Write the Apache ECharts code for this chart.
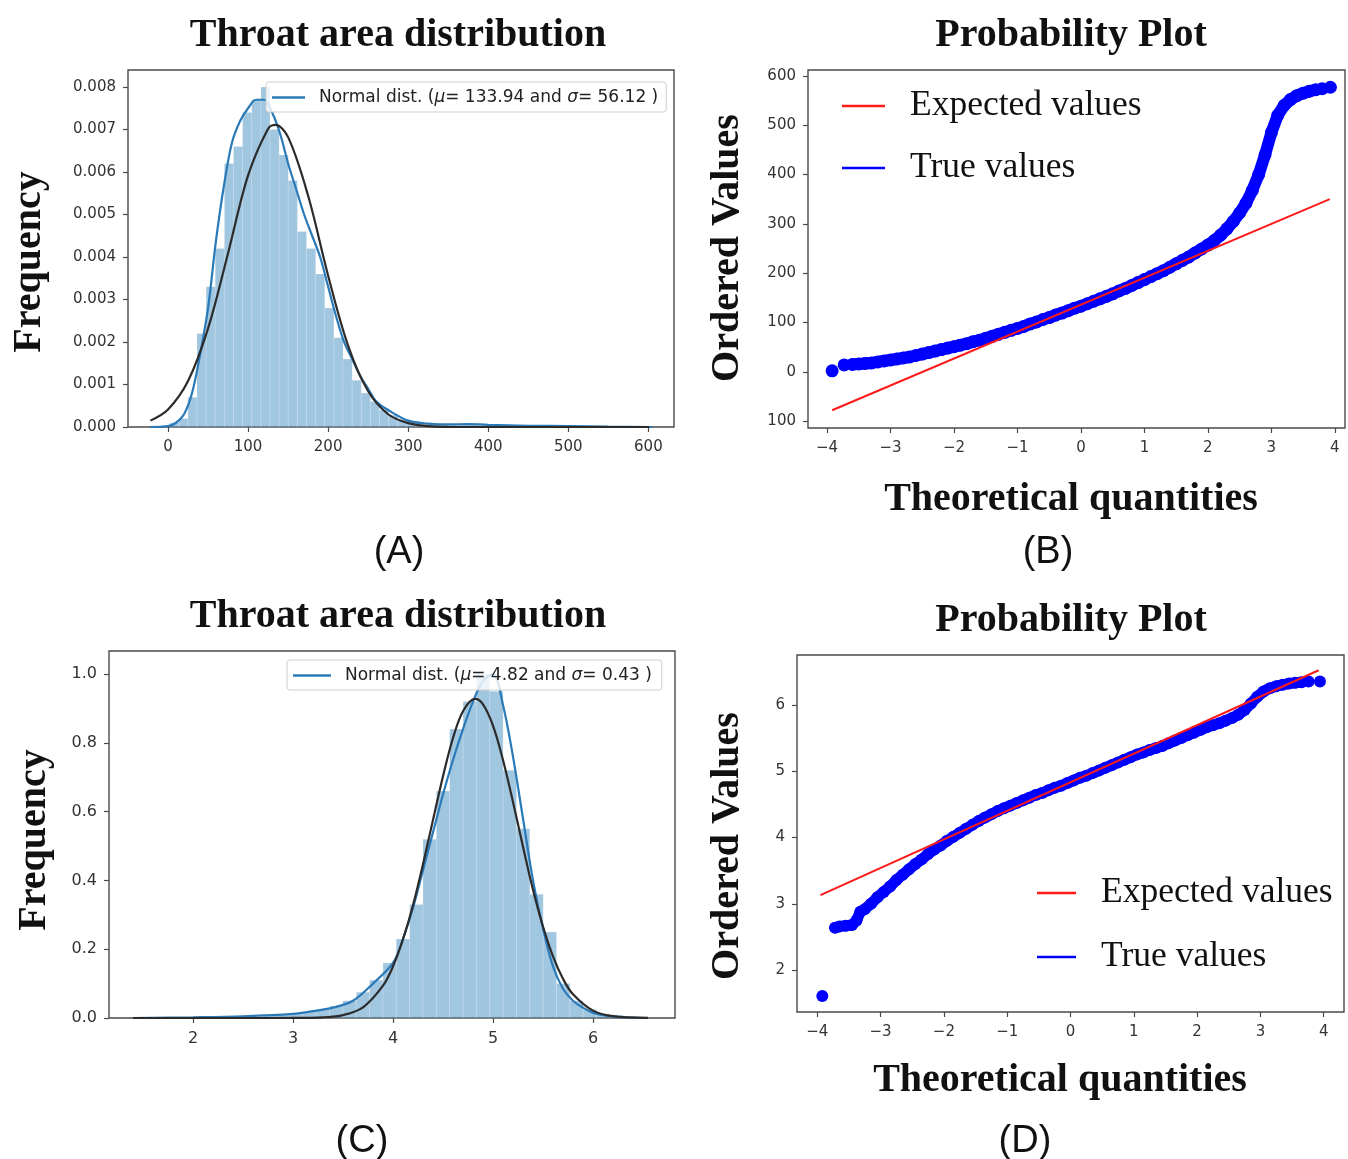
<!DOCTYPE html>
<html>
<head>
<meta charset="utf-8">
<script src="https://cdn.jsdelivr.net/npm/echarts@6/dist/echarts.min.js"></script>
<style>html,body{margin:0;padding:0;background:#fff;}#c{width:1348px;height:1159px;}</style>
</head>
<body>
<div id="c"></div>
<script>
// ---------- Panel A: histogram + KDE + normal fit ----------
const histA_edges = [2, 13.4, 24.8, 36.2, 47.6, 59, 70.4, 81.8, 93.2, 104.6, 116, 127.4, 138.8, 150.2, 161.6, 173, 184.4, 195.8, 207.2, 218.6, 230, 241.4, 252.8, 264.2, 275.6, 287, 298.4, 309.8, 321.2, 332.6, 344, 355.4, 366.8, 378.2, 389.6, 401, 412.4, 423.8, 435.2, 446.6, 458, 469.4, 480.8, 492.2, 503.6, 515, 526.4, 537.8, 549.2, 560.6, 572];
const histA_heights = [0.0001, 0.0002, 0.0007, 0.0022, 0.0033, 0.0042, 0.0062, 0.0066, 0.0074, 0.0077, 0.0080, 0.0070, 0.0064, 0.0058, 0.0046, 0.0042, 0.0036, 0.0028, 0.0021, 0.0016, 0.0011, 0.0008, 0.0006, 0.0004, 0.00028, 0.00018, 0.00012, 0.00009, 0.00007, 0.00006, 0.00005, 0.00006, 0.00007, 0.00005, 0.00004, 0.00003, 0.00003, 0.00002, 0.00002, 0.00002, 0.00001, 0.00001, 0.00001, 0.00001, 0, 0.00001, 0, 0, 0.00001, 0.00001];
const kdeA_x = [-22, 0, 10, 20, 30, 40, 50, 60, 70, 80, 90, 100, 110, 120, 130, 140, 150, 160, 170, 180, 190, 200, 210, 220, 230, 240, 250, 260, 275, 300, 325, 350, 375, 400, 450, 500, 550, 605];
const kdeA_y = [0, 0.00002, 0.0001, 0.0003, 0.0008, 0.0017, 0.0028, 0.0044, 0.0057, 0.0067, 0.0072, 0.0075, 0.0077, 0.0077, 0.0074, 0.0069, 0.0062, 0.0056, 0.0050, 0.0045, 0.0040, 0.0033, 0.0026, 0.0020, 0.0016, 0.0012, 0.0009, 0.0006, 0.0004, 0.00015, 0.00008, 0.00006, 0.00007, 0.00005, 0.00003, 0.00002, 0.00001, 0];
const normA_x = [-22, 0, 25, 50, 75, 100, 125, 134, 150, 175, 200, 225, 250, 275, 300, 325, 350, 400, 500, 601];
const normA_y = [0.00015, 0.00041, 0.00108, 0.00232, 0.00409, 0.00592, 0.00702, 0.00711, 0.00682, 0.00544, 0.00356, 0.00191, 0.00084, 0.0003, 0.00009, 0.00002, 0.000004, 0, 0, 0];
const ticksA_x = [0, 100, 200, 300, 400, 500, 600];
const ticksA_y = [0, 0.001, 0.002, 0.003, 0.004, 0.005, 0.006, 0.007, 0.008];

// ---------- Panel B: probability plot ----------
const qqB_single_x = [-3.92, -3.73];
const qqB_single_y = [2, 14];
const qqB_x = [-3.6, -3.5, -3.4, -3.3, -3.2, -3.1, -3.0, -2.9, -2.8, -2.7, -2.6, -2.5, -2.4, -2.3, -2.2, -2.1, -2.0, -1.9, -1.8, -1.7, -1.6, -1.5, -1.4, -1.3, -1.2, -1.1, -1.0, -0.9, -0.8, -0.7, -0.6, -0.5, -0.4, -0.3, -0.2, -0.1, 0, 0.1, 0.2, 0.3, 0.4, 0.5, 0.6, 0.7, 0.8, 0.9, 1.0, 1.1, 1.2, 1.3, 1.4, 1.5, 1.6, 1.7, 1.8, 1.9, 2.0, 2.1, 2.2, 2.3, 2.4, 2.5, 2.6, 2.7, 2.8, 2.9, 3.0, 3.1, 3.2, 3.3, 3.4, 3.5, 3.6, 3.7];
const qqB_y = [15, 16, 17, 18, 20, 22, 24, 26, 28, 30, 33, 36, 39, 42, 45, 48, 51, 54, 57, 61, 64, 68, 72, 76, 80, 84, 88, 92, 97, 101, 106, 110, 115, 119, 124, 129, 133, 138, 143, 148, 153, 158, 164, 169, 175, 181, 187, 193, 199, 205, 212, 219, 226, 233, 241, 249, 257, 266, 277, 290, 305, 322, 342, 368, 400, 440, 485, 520, 540, 552, 560, 565, 569, 572];
const qqB_tail_x = [3.8, 3.93];
const qqB_tail_y = [574, 577];
const fitB_x = [-3.92, 3.92];
const fitB_y = [-78, 350];
const ticksB_x = [-4, -3, -2, -1, 0, 1, 2, 3, 4];
const ticksB_y = [-100, 0, 100, 200, 300, 400, 500, 600];

// ---------- Panel C: histogram + KDE + normal fit ----------
const histC_edges = [1.630, 1.764, 1.897, 2.031, 2.164, 2.298, 2.431, 2.565, 2.698, 2.832, 2.965, 3.099, 3.232, 3.366, 3.499, 3.633, 3.766, 3.900, 4.033, 4.167, 4.300, 4.434, 4.567, 4.701, 4.834, 4.968, 5.101, 5.235, 5.368, 5.502, 5.635, 5.769, 5.902, 6.036, 6.169, 6.303, 6.436];
const histC_heights = [0.002, 0, 0, 0, 0, 0, 0, 0.004, 0.006, 0.008, 0.012, 0.018, 0.025, 0.035, 0.05, 0.075, 0.11, 0.16, 0.23, 0.33, 0.52, 0.66, 0.84, 0.92, 1.0, 0.95, 0.72, 0.55, 0.36, 0.25, 0.10, 0.05, 0.025, 0.012, 0.008, 0.004];
const kdeC_x = [1.4, 2.0, 2.5, 3.0, 3.2, 3.4, 3.6, 3.8, 4.0, 4.1, 4.2, 4.3, 4.4, 4.5, 4.6, 4.7, 4.8, 4.9, 5.0, 5.1, 5.2, 5.3, 5.4, 5.5, 5.6, 5.7, 5.8, 5.9, 6.0, 6.2, 6.5];
const kdeC_y = [0, 0.002, 0.005, 0.012, 0.02, 0.03, 0.05, 0.10, 0.16, 0.23, 0.32, 0.43, 0.54, 0.65, 0.75, 0.84, 0.92, 0.98, 1.0, 0.91, 0.76, 0.58, 0.40, 0.26, 0.15, 0.085, 0.05, 0.03, 0.015, 0.004, 0];
const normC_x = [1.4, 2.0, 2.5, 3.0, 3.3, 3.5, 3.7, 3.9, 4.0, 4.1, 4.2, 4.3, 4.4, 4.5, 4.6, 4.7, 4.82, 4.9, 5.0, 5.1, 5.2, 5.3, 5.4, 5.5, 5.6, 5.7, 5.8, 6.0, 6.2, 6.55];
const normC_y = [0, 0, 0, 0.0001, 0.0018, 0.0084, 0.031, 0.094, 0.150, 0.229, 0.328, 0.447, 0.576, 0.703, 0.814, 0.892, 0.928, 0.912, 0.850, 0.750, 0.628, 0.498, 0.373, 0.266, 0.179, 0.114, 0.069, 0.0215, 0.0054, 0.0003];
const ticksC_x = [2, 3, 4, 5, 6];
const ticksC_y = [0, 0.2, 0.4, 0.6, 0.8, 1.0];

// ---------- Panel D: probability plot ----------
const qqD_single_x = [-3.92];
const qqD_single_y = [1.61];
const qqD_x = [-3.72, -3.65, -3.55, -3.45, -3.38, -3.32, -3.25, -3.15, -3.05, -2.95, -2.85, -2.75, -2.65, -2.55, -2.45, -2.35, -2.25, -2.15, -2.05, -1.95, -1.85, -1.75, -1.65, -1.55, -1.45, -1.35, -1.25, -1.15, -1.05, -0.95, -0.85, -0.75, -0.65, -0.55, -0.45, -0.35, -0.25, -0.15, -0.05, 0.05, 0.15, 0.25, 0.35, 0.45, 0.55, 0.65, 0.75, 0.85, 0.95, 1.05, 1.15, 1.25, 1.35, 1.45, 1.55, 1.65, 1.75, 1.85, 1.95, 2.05, 2.15, 2.25, 2.35, 2.45, 2.55, 2.65, 2.75, 2.85, 2.95, 3.05, 3.15, 3.25, 3.35, 3.45, 3.55, 3.65];
const qqD_y = [2.64, 2.66, 2.67, 2.68, 2.75, 2.88, 2.92, 3.0, 3.1, 3.18, 3.26, 3.36, 3.44, 3.52, 3.6, 3.67, 3.75, 3.82, 3.88, 3.95, 4.01, 4.07, 4.13, 4.19, 4.25, 4.30, 4.35, 4.40, 4.44, 4.48, 4.52, 4.56, 4.60, 4.64, 4.67, 4.71, 4.75, 4.78, 4.82, 4.86, 4.90, 4.93, 4.97, 5.01, 5.05, 5.09, 5.13, 5.17, 5.21, 5.25, 5.28, 5.32, 5.35, 5.38, 5.42, 5.46, 5.50, 5.54, 5.58, 5.62, 5.66, 5.69, 5.72, 5.76, 5.80, 5.85, 5.92, 6.02, 6.12, 6.2, 6.25, 6.28, 6.30, 6.32, 6.33, 6.34];
const qqD_tail_x = [3.76, 3.94];
const qqD_tail_y = [6.35, 6.35];
const fitD_x = [-3.95, 3.92];
const fitD_y = [3.13, 6.52];
const ticksD_x = [-4, -3, -2, -1, 0, 1, 2, 3, 4];
const ticksD_y = [2, 3, 4, 5, 6];

// ---------- helpers ----------
const zip = (a, b) => a.map((v, i) => [v, b[i]]);
const bins = (edges, h) => h.map((v, i) => [edges[i], edges[i + 1], v]);
const MINUS = '\u2212';
const fmtSigned = v => (v < 0 ? MINUS + Math.abs(v) : String(v));

const nameA = 'Normal dist. (\u03bc= 133.94 and \u03c3= 56.12 )';
const nameC = 'Normal dist. (\u03bc= 4.82 and \u03c3= 0.43 )';
const richA = '{n|Normal dist. (}{i|\u03bc}{n|= 133.94 and }{i|\u03c3}{n|= 56.12 )}';
const richC = '{n|Normal dist. (}{i|\u03bc}{n|= 4.82 and }{i|\u03c3}{n|= 0.43 )}';

const frameColor = '#4a4a4a';
const tickFont = {fontFamily: 'DejaVu Sans', color: '#333'};

function xAxisCfg(idx, min, max, ticks, fmt, fs) {
  return {
    type: 'value', gridIndex: idx, min: min, max: max,
    axisLine: {show: false, onZero: false}, splitLine: {show: false},
    axisTick: {show: true, length: 5, customValues: ticks, lineStyle: {color: frameColor, width: 1.2}},
    axisLabel: Object.assign({show: true, customValues: ticks, formatter: fmt, fontSize: fs, margin: 13}, tickFont)
  };
}
function yAxisCfg(idx, min, max, ticks, fmt, fs) {
  return {
    type: 'value', gridIndex: idx, min: min, max: max,
    axisLine: {show: false, onZero: false}, splitLine: {show: false},
    axisTick: {show: true, length: 5, customValues: ticks, lineStyle: {color: frameColor, width: 1.2}},
    axisLabel: Object.assign({show: true, customValues: ticks, formatter: fmt, fontSize: fs, margin: 12}, tickFont)
  };
}

function histSeries(xi, data) {
  return {
    type: 'custom', xAxisIndex: xi, yAxisIndex: xi, silent: true, z: 1,
    data: data, encode: {x: [0, 1], y: 2},
    renderItem: function (params, api) {
      const p0 = api.coord([api.value(0), api.value(2)]);
      const p1 = api.coord([api.value(1), 0]);
      return {type: 'rect', shape: {x: p0[0], y: p0[1], width: p1[0] - p0[0], height: p1[1] - p0[1]},
        style: {fill: 'rgba(31,119,180,0.42)', stroke: 'rgba(255,255,255,0.3)', lineWidth: 0.6}};
    }
  };
}
function curve(name, xi, data, color, w, z) {
  return {type: 'line', name: name, xAxisIndex: xi, yAxisIndex: xi, data: data, showSymbol: false,
    smooth: 0.35, lineStyle: {color: color, width: w}, itemStyle: {color: color}, z: z, silent: true};
}
function band(xi, data, size) {
  return {type: 'line', name: 'True values', xAxisIndex: xi, yAxisIndex: xi, data: data,
    showSymbol: true, showAllSymbol: true, symbol: 'circle', symbolSize: size,
    lineStyle: {color: '#0000ff', width: size - 1, cap: 'round', join: 'round'}, itemStyle: {color: '#0000ff'}, z: 2, silent: true};
}
function dots(xi, data, size) {
  return {type: 'scatter', name: 'True values', xAxisIndex: xi, yAxisIndex: xi, data: data,
    symbol: 'circle', symbolSize: size, itemStyle: {color: '#0000ff', opacity: 1}, z: 2, silent: true};
}

const serifFam = '"Liberation Serif", "Times New Roman", serif';
function txt(x, y, text, font, rot) {
  return {type: 'text', x: x, y: y, rotation: rot || 0, silent: true,
    style: {text: text, font: font, fill: '#111', textAlign: 'center', textVerticalAlign: 'middle', align: 'center', verticalAlign: 'middle'}};
}

const chart = echarts.init(document.getElementById('c'), null, {renderer: 'canvas'});
const legendSmallText = {
  fontFamily: 'DejaVu Sans', fontSize: 17, color: '#222', padding: [0, 0, 0, 9],
  rich: {
    n: {fontFamily: 'DejaVu Sans', fontSize: 17, color: '#222'},
    i: {fontFamily: 'DejaVu Sans', fontStyle: 'italic', fontSize: 17, color: '#222'}
  }
};
chart.setOption({
  animation: false,
  backgroundColor: '#fff',
  grid: [
    {left: 128, top: 70, width: 546, height: 357, show: true, borderColor: frameColor, borderWidth: 1.4, backgroundColor: 'transparent'},
    {left: 808, top: 70, width: 537, height: 358, show: true, borderColor: frameColor, borderWidth: 1.4, backgroundColor: 'transparent'},
    {left: 109, top: 651, width: 566, height: 367, show: true, borderColor: frameColor, borderWidth: 1.4, backgroundColor: 'transparent'},
    {left: 797, top: 655, width: 547, height: 357, show: true, borderColor: frameColor, borderWidth: 1.4, backgroundColor: 'transparent'}
  ],
  xAxis: [
    xAxisCfg(0, -50, 632, ticksA_x, v => String(v), 15),
    xAxisCfg(1, -4.3, 4.16, ticksB_x, fmtSigned, 15),
    xAxisCfg(2, 1.16, 6.82, ticksC_x, v => String(v), 16),
    xAxisCfg(3, -4.32, 4.32, ticksD_x, fmtSigned, 15)
  ],
  yAxis: [
    yAxisCfg(0, 0, 0.0084, ticksA_y, v => v.toFixed(3), 15),
    yAxisCfg(1, -114, 612, ticksB_y, v => String(Math.abs(v)), 15),
    yAxisCfg(2, 0, 1.067, ticksC_y, v => v.toFixed(1), 16),
    yAxisCfg(3, 1.37, 6.75, ticksD_y, v => String(v), 15)
  ],
  legend: [
    {data: [{name: nameA, icon: 'rect'}], left: 266, top: 82, orient: 'horizontal', selectedMode: false,
      padding: [7, 8, 6, 6], itemWidth: 33, itemHeight: 2.5,
      backgroundColor: 'rgba(255,255,255,0.8)', borderColor: '#cfcfcf', borderWidth: 1, borderRadius: 3,
      formatter: () => richA, textStyle: legendSmallText},
    {data: [{name: nameC, icon: 'rect'}], left: 287, top: 660, orient: 'horizontal', selectedMode: false,
      padding: [7, 10, 6, 6], itemWidth: 38, itemHeight: 2.5,
      backgroundColor: 'rgba(255,255,255,0.8)', borderColor: '#cfcfcf', borderWidth: 1, borderRadius: 3,
      formatter: () => richC, textStyle: legendSmallText},
    {data: [{name: 'Expected values', icon: 'rect'}, {name: 'True values', icon: 'rect'}], left: 842, top: 86,
      orient: 'vertical', selectedMode: false, padding: 0, itemGap: 22, itemWidth: 43, itemHeight: 2.5,
      textStyle: {fontFamily: serifFam, fontSize: 35.5, color: '#111', lineHeight: 40, padding: [0, 0, 0, 20]}},
    {data: [{name: 'Expected values', icon: 'rect'}, {name: 'True values', icon: 'rect'}], left: 1037, top: 873,
      orient: 'vertical', selectedMode: false, padding: 0, itemGap: 24, itemWidth: 39, itemHeight: 2.5,
      textStyle: {fontFamily: serifFam, fontSize: 35.5, color: '#111', lineHeight: 40, padding: [0, 0, 0, 20]}}
  ],
  series: [
    histSeries(0, bins(histA_edges, histA_heights)),
    curve(nameA, 0, zip(kdeA_x, kdeA_y), '#2a7ab8', 2.2, 3),
    curve('normA', 0, zip(normA_x, normA_y), '#2b2b2b', 2.2, 4),

    band(1, zip(qqB_x, qqB_y), 13),
    dots(1, zip(qqB_single_x, qqB_single_y), 13),
    dots(1, zip(qqB_tail_x, qqB_tail_y), 13),
    {type: 'line', name: 'Expected values', xAxisIndex: 1, yAxisIndex: 1, data: zip(fitB_x, fitB_y), showSymbol: false,
      lineStyle: {color: '#ff1a1a', width: 2}, itemStyle: {color: '#ff1a1a'}, z: 3, silent: true},

    histSeries(2, bins(histC_edges, histC_heights)),
    curve(nameC, 2, zip(kdeC_x, kdeC_y), '#2a7ab8', 2.2, 3),
    curve('normC', 2, zip(normC_x, normC_y), '#2b2b2b', 2.2, 4),

    band(3, zip(qqD_x, qqD_y), 12),
    dots(3, zip(qqD_single_x, qqD_single_y), 12),
    dots(3, zip(qqD_tail_x, qqD_tail_y), 12),
    {type: 'line', name: 'Expected values', xAxisIndex: 3, yAxisIndex: 3, data: zip(fitD_x, fitD_y), showSymbol: false,
      lineStyle: {color: '#ff1a1a', width: 2}, itemStyle: {color: '#ff1a1a'}, z: 3, silent: true}
  ],
  graphic: [
    txt(398, 36, 'Throat area distribution', 'bold 40px ' + serifFam),
    txt(1071, 36, 'Probability Plot', 'bold 40px ' + serifFam),
    txt(398, 617, 'Throat area distribution', 'bold 40px ' + serifFam),
    txt(1071, 621, 'Probability Plot', 'bold 40px ' + serifFam),
    txt(30, 262, 'Frequency', 'bold 40px ' + serifFam, Math.PI / 2),
    txt(35, 840, 'Frequency', 'bold 40px ' + serifFam, Math.PI / 2),
    txt(728, 248, 'Ordered Values', 'bold 40px ' + serifFam, Math.PI / 2),
    txt(728, 846, 'Ordered Values', 'bold 40px ' + serifFam, Math.PI / 2),
    txt(1071, 500, 'Theoretical quantities', 'bold 40px ' + serifFam),
    txt(1060, 1081, 'Theoretical quantities', 'bold 40px ' + serifFam),
    txt(399, 553, '(A)', '38px "Liberation Sans", Arial, sans-serif'),
    txt(1048, 553, '(B)', '38px "Liberation Sans", Arial, sans-serif'),
    txt(362, 1142, '(C)', '38px "Liberation Sans", Arial, sans-serif'),
    txt(1025, 1142, '(D)', '38px "Liberation Sans", Arial, sans-serif')
  ]
});
</script>
</body>
</html>
